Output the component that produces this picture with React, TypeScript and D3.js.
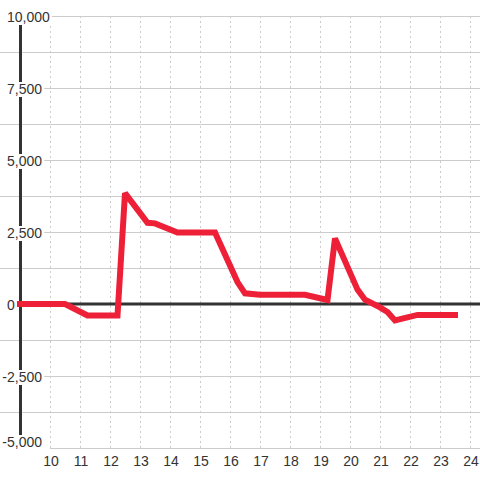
import React, { useEffect, useRef } from "react";
import * as d3 from "d3";

const hours = [9, 10.5, 11.25, 12.25, 12.5, 13.25, 13.5, 14.25, 15.5, 16.25, 16.5, 17, 18.5, 19.25, 19.5, 20.25, 20.5, 21, 21.25, 21.5, 22.25, 23.5];
const values = [0, 0, -400, -400, 3850, 2820, 2800, 2480, 2480, 760, 370, 320, 320, 140, 2280, 500, 150, -120, -280, -570, -380, -380];
const yTicks = [10000, 7500, 5000, 2500, 0, -2500, -5000];
const yTickLabels = ["10,000", "7,500", "5,000", "2,500", "0", "-2,500", "-5,000"];
const yGrid = [10000, 8750, 7500, 6250, 5000, 3750, 2500, 1250, -1250, -2500, -3750];
const xTicks = [10, 11, 12, 13, 14, 15, 16, 17, 18, 19, 20, 21, 22, 23, 24];

export default function App() {
  const ref = useRef<SVGSVGElement>(null);
  useEffect(() => {
    const svg = d3.select(ref.current);
    svg.selectAll("*").remove();
    const W = 480, H = 480;
    const x = d3.scaleLinear().domain([9, 24]).range([20, 470]);
    const y = d3.scaleLinear().domain([-5000, 10000]).range([448, 16]);
    const font = "'Liberation Sans', Arial, sans-serif";

    svg.append("rect").attr("width", W).attr("height", H).attr("fill", "#ffffff");

    // horizontal grid
    svg.append("g").selectAll("line").data(yGrid).join("line")
      .attr("x1", 0).attr("x2", W)
      .attr("y1", (d) => Math.round(y(d)) + 0.5).attr("y2", (d) => Math.round(y(d)) + 0.5)
      .attr("stroke", "#cccccc").attr("stroke-width", 1);
    // bottom line
    svg.append("line").attr("x1", x(10)).attr("x2", W)
      .attr("y1", y(-5000) + 0.5).attr("y2", y(-5000) + 0.5)
      .attr("stroke", "#cccccc").attr("stroke-width", 1);

    // vertical dashed grid
    svg.append("g").selectAll("line").data(xTicks).join("line")
      .attr("x1", (d) => Math.round(x(d)) + 0.5).attr("x2", (d) => Math.round(x(d)) + 0.5)
      .attr("y1", y(10000)).attr("y2", y(-5000))
      .attr("stroke", "#cccccc").attr("stroke-width", 1).attr("stroke-dasharray", "2,3");

    // zero line
    svg.append("line").attr("x1", 0).attr("x2", W)
      .attr("y1", y(0)).attr("y2", y(0))
      .attr("stroke", "#333333").attr("stroke-width", 3);
    // y axis line
    svg.append("line").attr("x1", x(9) + 0.5).attr("x2", x(9) + 0.5)
      .attr("y1", y(10000)).attr("y2", y(-5000))
      .attr("stroke", "#333333").attr("stroke-width", 3);

    // y labels with background
    const lab = svg.append("g");
    yTicks.forEach((v, i) => {
      const g = lab.append("g");
      const base = v === -5000 ? y(v) - 1 : y(v) + 6;
      const t = g.append("text")
        .attr("x", 7).attr("y", base)
        .attr("font-family", font).attr("font-size", 14).attr("fill", "#333333")
        .text(yTickLabels[i]);
      if (v < 0) {
        const minusW = (t.node() as SVGTextElement).getSubStringLength(0, 1);
        t.attr("x", 7 - minusW);
      }
      const bb = (t.node() as SVGTextElement).getBBox();
      g.insert("rect", "text")
        .attr("x", 0).attr("y", base - 12)
        .attr("width", bb.x + bb.width + 2).attr("height", 15)
        .attr("fill", "#ffffff");
    });

    // x labels
    svg.append("g").selectAll("text").data(xTicks).join("text")
      .attr("x", (d) => x(d) + 1).attr("y", 466)
      .attr("text-anchor", "middle")
      .attr("font-family", font).attr("font-size", 14).attr("fill", "#333333")
      .text((d) => String(d));

    // red line
    const line = d3.line<number>().x((_, i) => x(hours[i])).y((d) => y(d));
    svg.append("path").attr("d", line(values) as string)
      .attr("fill", "none").attr("stroke", "#ee2038").attr("stroke-width", 6)
      .attr("stroke-linecap", "square").attr("stroke-linejoin", "miter")
      .attr("stroke-miterlimit", 2);
  }, []);
  return (
    <svg ref={ref} width={480} height={480} style={{ position: "absolute", left: 0, top: 0 }} />
  );
}
